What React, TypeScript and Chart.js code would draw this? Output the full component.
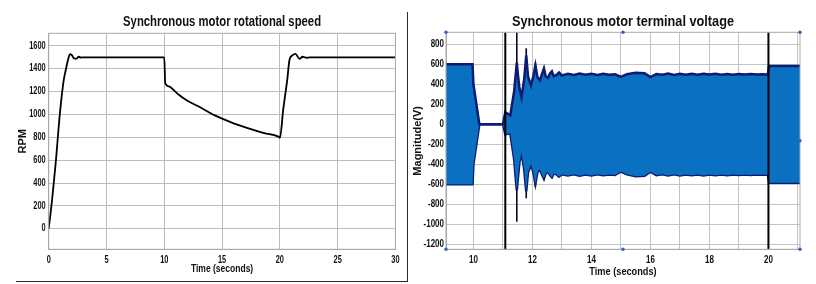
import React, { useEffect, useRef } from "react";
import { Chart, registerables } from "chart.js";

Chart.register(...registerables);

// ---------- Left chart: rotational speed ----------
const leftTitle = "Synchronous motor rotational speed";
const leftXTicks = [0, 5, 10, 15, 20, 25, 30];
const leftYTicks = [0, 200, 400, 600, 800, 1000, 1200, 1400, 1600];
const speedTime = [
  0, 0.3, 0.6, 0.97, 1.3, 1.5, 1.7, 1.85, 2.0, 2.2, 2.4, 2.6, 2.8, 3.0,
  10.0, 10.08, 10.4, 10.8, 11.23, 12.0, 12.94, 14.37, 15.79, 17.22, 18.64, 19.93,
  20.0, 20.3, 20.64, 20.84, 21.07, 21.35, 21.7, 21.98, 22.3, 22.6, 30,
];
const speedRpm = [
  0, 260, 570, 1010, 1300, 1400, 1490, 1528, 1518, 1490, 1488, 1505, 1498, 1500,
  1500, 1275, 1245, 1215, 1174, 1120, 1071, 992, 931, 881, 837, 802,
  795, 1050, 1305, 1481, 1516, 1530, 1487, 1505, 1496, 1500, 1500,
];

// ---------- Right chart: terminal voltage envelope ----------
const rightTitle = "Synchronous motor terminal voltage";
const rightXGrid = [10, 11, 12, 13, 14, 15, 16, 17, 18, 19, 20, 21];
const rightXLabels = [10, 12, 14, 16, 18, 20];
const rightYTicks = [-1200, -1000, -800, -600, -400, -200, 0, 200, 400, 600, 800];
const envTime = [
  9.07, 9.97, 10.0, 10.2, 11.0, 11.08, 11.25, 11.38, 11.44, 11.47, 11.5, 11.56,
  11.63, 11.72, 11.79, 11.85, 11.95, 12.03, 12.1, 12.17, 12.25, 12.32, 12.39,
  12.45, 12.52, 12.6, 12.66, 12.72, 12.8, 12.9, 13.0, 13.2, 13.4, 13.6, 13.8,
  14.0, 14.2, 14.4, 14.6, 14.8, 15.0, 15.2, 15.5, 15.8, 16.0, 16.2, 16.4, 16.6,
  16.8, 17.0, 17.2, 17.4, 17.6, 17.8, 18.0, 18.2, 18.4, 18.6, 18.8, 19.0, 19.2,
  19.4, 19.6, 19.8, 19.98, 20.02, 21.07,
];
const envUpper = [
  600, 600, 400, 0, 0, 120, 90, 330, 520, 620, 520, 360,
  270, 450, 690, 480, 390, 480, 590, 470, 440, 500, 560,
  480, 465, 510, 530, 482, 490, 518, 488, 506, 494, 508, 496,
  506, 494, 505, 496, 500, 474, 500, 515, 510, 472, 502, 496, 507,
  494, 506, 496, 505, 496, 506, 497, 505, 496, 504, 496, 503, 497,
  503, 497, 500, 498, 583, 583,
];
const envLower = [
  -600, -600, -400, 0, 0, -100, -90, -350, -560, -660, -560, -380,
  -280, -450, -670, -480, -400, -480, -595, -480, -450, -500, -545,
  -490, -475, -510, -530, -492, -498, -524, -500, -512, -500, -514, -502,
  -512, -500, -510, -502, -506, -472, -500, -520, -514, -474, -508, -500, -512,
  -500, -512, -502, -510, -502, -511, -503, -510, -502, -509, -502, -508, -502,
  -507, -502, -505, -504, -584, -584,
];
// Full-height switching transients
const switchTimes = [11.08, 20.0];
const switchRange = [-1300, 1000];
// Oscillation peaks reaching beyond the envelope
const peakTimes = [11.47, 11.79, 12.1, 12.39, 12.66];
const peakTop = [1000, 760, 616, 576, 540];
const peakBottom = [-974, -740, -624, -557, -540];

const FONT = "'Liberation Sans', Arial, Helvetica, sans-serif";
const W = 816;
const H = 284;

const zip = (xs: number[], ys: number[]) => xs.map((x, i) => ({ x, y: ys[i] }));

// Render horizontal canvas text condensed (narrow Helvetica look of the original).
function condenseContext(canvas: HTMLCanvasElement, k: number) {
  const ctx: any = canvas.getContext("2d");
  if (!ctx || ctx.__rawFill) return;
  const raw = ctx.fillText.bind(ctx);
  ctx.__rawFill = raw;
  ctx.fillText = (text: string, x: number, y: number, maxWidth?: number) => {
    const m = ctx.getTransform();
    const rotated = Math.abs(m.b) > 1e-6;
    if (rotated) {
      if (maxWidth !== undefined && maxWidth !== null) raw(text, x, y, maxWidth);
      else raw(text, x, y);
      return;
    }
    ctx.save();
    ctx.translate(x, y);
    ctx.scale(k, 1);
    if (maxWidth !== undefined && maxWidth !== null) raw(text, 0, 0, maxWidth / k);
    else raw(text, 0, 0);
    ctx.restore();
  };
}

function titlePlugin(text: string, y: number, size: number, width: number) {
  return {
    id: "customTitle",
    afterDraw(chart: any) {
      const { ctx, chartArea } = chart;
      ctx.save();
      ctx.font = `bold ${size}px ${FONT}`;
      ctx.fillStyle = "#111";
      ctx.textAlign = "center";
      ctx.textBaseline = "middle";
      const raw = ctx.__rawFill || ctx.fillText.bind(ctx);
      raw(text, (chartArea.left + chartArea.right) / 2, y, width);
      ctx.restore();
    },
  };
}

const framePlugin = {
  id: "frame",
  afterDatasetsDraw(chart: any) {
    const { ctx, chartArea } = chart;
    ctx.save();
    ctx.strokeStyle = "#a9a9a9";
    ctx.lineWidth = 1;
    ctx.strokeRect(chartArea.left, chartArea.top, chartArea.right - chartArea.left, chartArea.bottom - chartArea.top);
    ctx.restore();
  },
};

const handlesPlugin = {
  id: "handles",
  afterDraw(chart: any) {
    const { ctx, chartArea } = chart;
    const { left, right, top, bottom } = chartArea;
    const mx = (left + right) / 2;
    const my = (top + bottom) / 2;
    const pts = [
      [left, top], [mx, top], [right, top],
      [left, bottom], [mx, bottom], [right, bottom], [right, my],
    ];
    ctx.save();
    ctx.fillStyle = "#2f62c8";
    pts.forEach(([x, y]) => {
      ctx.beginPath();
      ctx.arc(x, y, 1.7, 0, Math.PI * 2);
      ctx.fill();
    });
    ctx.restore();
  },
};

const tickFont = { family: FONT, size: 10, weight: "bold" as const };

export default function App() {
  const leftRef = useRef<HTMLCanvasElement | null>(null);
  const rightRef = useRef<HTMLCanvasElement | null>(null);

  useEffect(() => {
    const lc = leftRef.current as HTMLCanvasElement;
    const rc = rightRef.current as HTMLCanvasElement;
    condenseContext(lc, 0.74);
    condenseContext(rc, 0.8);

    const left = new Chart(lc, {
      type: "line",
      data: {
        datasets: [
          {
            data: zip(speedTime, speedRpm),
            borderColor: "#000",
            borderWidth: 1.8,
            pointRadius: 0,
            cubicInterpolationMode: "monotone",
            fill: false,
          },
        ],
      },
      options: {
        animation: false,
        responsive: false,
        maintainAspectRatio: false,
        parsing: false,
        layout: { padding: { top: 33.3, right: 6.7, left: 0, bottom: 0 } },
        plugins: { legend: { display: false }, tooltip: { enabled: false }, title: { display: false } },
        scales: {
          x: {
            type: "linear",
            min: 0,
            max: 30,
            afterBuildTicks: (s: any) => { s.ticks = leftXTicks.map((v) => ({ value: v })); },
            afterFit: (s: any) => { s.height = 34.7; },
            grid: { color: "#bdbdbd", drawTicks: false },
            border: { color: "#a9a9a9" },
            ticks: { padding: 5, font: tickFont, color: "#111", maxRotation: 0, callback: (v: any) => String(v) },
            title: {
              display: true, text: "Time (seconds)", color: "#111",
              font: { family: FONT, size: 11.5, weight: "bold" },
              padding: { top: 0, bottom: 8.5 },
            },
          },
          y: {
            type: "linear",
            min: -180,
            max: 1710,
            afterBuildTicks: (s: any) => { s.ticks = leftYTicks.map((v) => ({ value: v })); },
            afterFit: (s: any) => { s.width = 48.7; },
            grid: { color: "#bdbdbd", drawTicks: false },
            border: { color: "#a9a9a9" },
            ticks: { padding: 3, font: tickFont, color: "#111", callback: (v: any) => String(v) },
            title: {
              display: true, text: "RPM", color: "#111",
              font: { family: FONT, size: 11, weight: "bold" },
              padding: { top: 16, bottom: 0 },
            },
          },
        },
      },
      plugins: [framePlugin, titlePlugin(leftTitle, 22, 15, 198)],
    } as any);

    const switchSets = switchTimes.map((t) => ({
      data: switchRange.map((v) => ({ x: t, y: v })),
      borderColor: "#000",
      borderWidth: 2,
      pointRadius: 0,
      fill: false,
      order: 0,
    }));
    const peakSets = peakTimes.map((t, i) => ({
      data: [
        { x: t, y: peakBottom[i] },
        { x: t, y: peakTop[i] },
      ],
      borderColor: "#050a20",
      borderWidth: 1.6,
      pointRadius: 0,
      fill: false,
      order: 2,
    }));

    const right = new Chart(rc, {
      type: "line",
      data: {
        datasets: [
          ...switchSets,
          {
            data: zip(envTime, envUpper),
            borderColor: "#0b1c72",
            borderWidth: 2.5,
            backgroundColor: "#0a70c2",
            pointRadius: 0,
            fill: "+1",
            order: 1,
          },
          {
            data: zip(envTime, envLower),
            borderColor: "#0b1c72",
            borderWidth: 2.5,
            pointRadius: 0,
            fill: false,
            order: 1,
          },
          ...peakSets,
        ],
      },
      options: {
        animation: false,
        responsive: false,
        maintainAspectRatio: false,
        parsing: false,
        layout: { padding: { top: 32.3, right: 16, left: 0, bottom: 0 } },
        plugins: { legend: { display: false }, tooltip: { enabled: false }, title: { display: false } },
        scales: {
          x: {
            type: "linear",
            min: 9.07,
            max: 21.07,
            afterBuildTicks: (s: any) => { s.ticks = rightXGrid.map((v) => ({ value: v })); },
            afterFit: (s: any) => { s.height = 34.7; },
            grid: { color: "#c4c4c4", drawTicks: false },
            border: { color: "#a9a9a9" },
            ticks: {
              padding: 5,
              font: tickFont,
              color: "#111",
              maxRotation: 0,
              autoSkip: false,
              callback: (v: any) => (rightXLabels.includes(v) ? String(v) : ""),
            },
            title: {
              display: true, text: "Time (seconds)", color: "#111",
              font: { family: FONT, size: 11.5, weight: "bold" },
              padding: { top: 0, bottom: 5.5 },
            },
          },
          y: {
            type: "linear",
            min: -1250,
            max: 920,
            afterBuildTicks: (s: any) => { s.ticks = rightYTicks.map((v) => ({ value: v })); },
            afterFit: (s: any) => { s.width = 38; },
            grid: { color: "#c4c4c4", drawTicks: false },
            border: { color: "#a9a9a9" },
            ticks: { padding: 2, font: tickFont, color: "#111", callback: (v: any) => String(v) },
            title: {
              display: true, text: "Magnitude(V)", color: "#111",
              font: { family: FONT, size: 11, weight: "bold" },
              padding: { top: 3.1, bottom: 0 },
            },
          },
        },
      },
      plugins: [framePlugin, handlesPlugin, titlePlugin(rightTitle, 22, 15, 222)],
    } as any);

    return () => {
      left.destroy();
      right.destroy();
    };
  }, []);

  return (
    <div style={{ position: "absolute", left: 0, top: 0, width: W, height: H, background: "#fff", overflow: "hidden" }}>
      <canvas
        ref={leftRef}
        width={406}
        height={H}
        style={{ position: "absolute", left: 0, top: 0, width: 406, height: H }}
      />
      <div
        style={{
          position: "absolute",
          left: 16,
          top: 12,
          width: 391,
          height: 269,
          borderRight: "1px solid #2b2b2b",
          borderBottom: "1px solid #2b2b2b",
          pointerEvents: "none",
        }}
      />
      <canvas
        ref={rightRef}
        width={408}
        height={H}
        style={{ position: "absolute", left: 408, top: 0, width: 408, height: H }}
      />
    </div>
  );
}
